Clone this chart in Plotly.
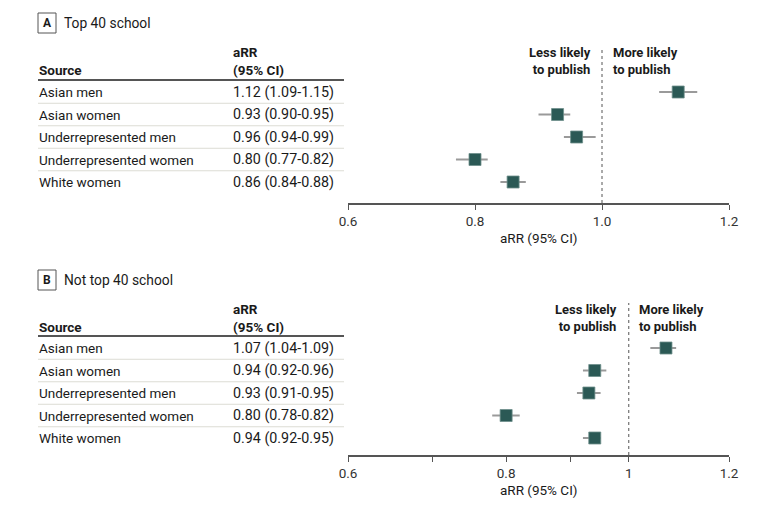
import plotly.graph_objects as go

W, H = 780, 512
FONT = "Roboto"
TXT = "#1a1a1a"

sources = ["Asian men", "Asian women", "Underrepresented men", "Underrepresented women", "White women"]

# Panel A: Top 40 school
a_est = [1.12, 0.93, 0.96, 0.80, 0.86]
a_lo = [1.09, 0.90, 0.94, 0.77, 0.84]
a_hi = [1.15, 0.95, 0.99, 0.82, 0.88]
a_lbl = ["1.12 (1.09-1.15)", "0.93 (0.90-0.95)", "0.96 (0.94-0.99)", "0.80 (0.77-0.82)", "0.86 (0.84-0.88)"]

# Panel B: Not top 40 school
b_est = [1.07, 0.94, 0.93, 0.80, 0.94]
b_lo = [1.04, 0.92, 0.91, 0.78, 0.92]
b_hi = [1.09, 0.96, 0.95, 0.82, 0.95]
b_lbl = ["1.07 (1.04-1.09)", "0.94 (0.92-0.96)", "0.93 (0.91-0.95)", "0.80 (0.78-0.82)", "0.94 (0.92-0.95)"]

a_ticks = [0.6, 0.8, 1.0, 1.2]
a_ticktext = ["0.6", "0.8", "1.0", "1.2"]
b_ticks = [0.6, 0.7, 0.8, 0.9, 1.0, 1.2]
b_ticktext = ["0.6", "", "0.8", "", "1", "1.2"]

MARK = "#2b5955"
CI = "#9a9a9a"

def px(x):
    return x / W

def py(y):
    return 1 - y / H

fig = go.Figure()
idx = list(range(len(sources)))

for est, lo, hi, xa, ya in [(a_est, a_lo, a_hi, "x", "y"), (b_est, b_lo, b_hi, "x2", "y2")]:
    fig.add_trace(go.Scatter(
        x=est, y=idx, xaxis=xa, yaxis=ya, mode="markers",
        marker=dict(symbol="square", size=12, color=MARK, line=dict(color="#6f8f8c", width=0.8)),
        error_x=dict(type="data", symmetric=False,
                     array=[h - e for h, e in zip(hi, est)],
                     arrayminus=[e - l for e, l in zip(est, lo)],
                     color=CI, thickness=2, width=0),
        showlegend=False, hoverinfo="skip"))

row_step = 22.5
a_row0, a_axis, a_top = 92, 203, 47
b_row0, b_axis, b_top = 348, 455, 303

xdom = [px(348), px(729)]
axis_common = dict(showgrid=False, zeroline=False, showline=True, linecolor="#555", linewidth=1.5,
                   ticks="outside", ticklen=5, tickcolor="#555", tickwidth=1.2, automargin=False,
                   tickfont=dict(family=FONT, size=13.5, color="#333"), domain=xdom)

fig.update_layout(
    width=W, height=H, margin=dict(l=0, r=0, t=0, b=0, pad=0, autoexpand=False),
    paper_bgcolor="white", plot_bgcolor="white",
    font=dict(family=FONT, color=TXT),
    xaxis=dict(range=[0.6, 1.2], tickvals=a_ticks, ticktext=a_ticktext, anchor="y", **axis_common),
    yaxis=dict(domain=[py(a_axis), py(a_top)], range=[(a_axis - a_row0) / row_step, (a_top - a_row0) / row_step],
               visible=False, anchor="x"),
    xaxis2=dict(type="log", range=[-0.2218487, 0.0791812], tickvals=b_ticks, ticktext=b_ticktext, anchor="y2", **axis_common),
    yaxis2=dict(domain=[py(b_axis), py(b_top)], range=[(b_axis - b_row0) / row_step, (b_top - b_row0) / row_step],
                visible=False, anchor="x2"),
)

# dotted reference lines at 1
for xr, yr in [("x", "y domain"), ("x2", "y2 domain")]:
    fig.add_shape(type="line", xref=xr, yref=yr, x0=1, x1=1, y0=0, y1=1,
                  line=dict(color="#555", width=1, dash="dot"))

ann = []
shapes = []

def text(x, y, s, size=13.5, bold=False, xanchor="left", align="left"):
    ann.append(dict(xref="paper", yref="paper", x=px(x), y=py(y), text=f"<b>{s}</b>" if bold else s,
                    showarrow=False, xanchor=xanchor, yanchor="middle", align=align, borderpad=0,
                    font=dict(family=FONT, size=size, color=TXT)))

panels = [
    ("A", "Top 40 school", 23, 52, 70, 80, a_row0, a_lbl, a_axis, 592, 612),
    ("B", "Not top 40 school", 280, 309, 327, 336, b_row0, b_lbl, b_axis, 618, 638),
]
for letter, title, ty, h1, h2, hline, row0, lbls, axis_y, less_x, more_x in panels:
    shapes.append(dict(type="rect", xref="paper", yref="paper", x0=px(38), x1=px(56), y0=py(ty - 10), y1=py(ty + 10),
                       line=dict(color="#555", width=1)))
    text(47, ty, letter, size=12, bold=True, xanchor="center", align="center")
    text(63, ty, title, size=13.8)
    text(38, h2, "Source", bold=True)
    text(232, h1, "aRR", bold=True)
    text(232, h2, "(95% CI)", bold=True)
    shapes.append(dict(type="line", xref="paper", yref="paper", x0=px(38), x1=px(344), y0=py(hline), y1=py(hline),
                       line=dict(color="#555", width=2)))
    for i, (s, l) in enumerate(zip(sources, lbls)):
        y = row0 + i * row_step
        text(38, y, s)
        text(232, y, l, size=14.3)
        if i < len(sources) - 1:
            ys = y + row_step / 2
            shapes.append(dict(type="line", xref="paper", yref="paper", x0=px(38), x1=px(344), y0=py(ys), y1=py(ys),
                               line=dict(color="#dcdcd4", width=1)))
    text(less_x, (h1 + h2) / 2, "Less likely<br>to publish", size=13, bold=True, xanchor="right", align="right")
    text(more_x, (h1 + h2) / 2, "More likely<br>to publish", size=13, bold=True, xanchor="left", align="left")
    text(538.5, axis_y + 35, "aRR (95% CI)", xanchor="center", align="center")

fig.update_layout(annotations=ann, shapes=list(fig.layout.shapes) + shapes)
fig.write_html("out.html", config={"displayModeBar": False}, post_script="document.body.style.margin='0';")
